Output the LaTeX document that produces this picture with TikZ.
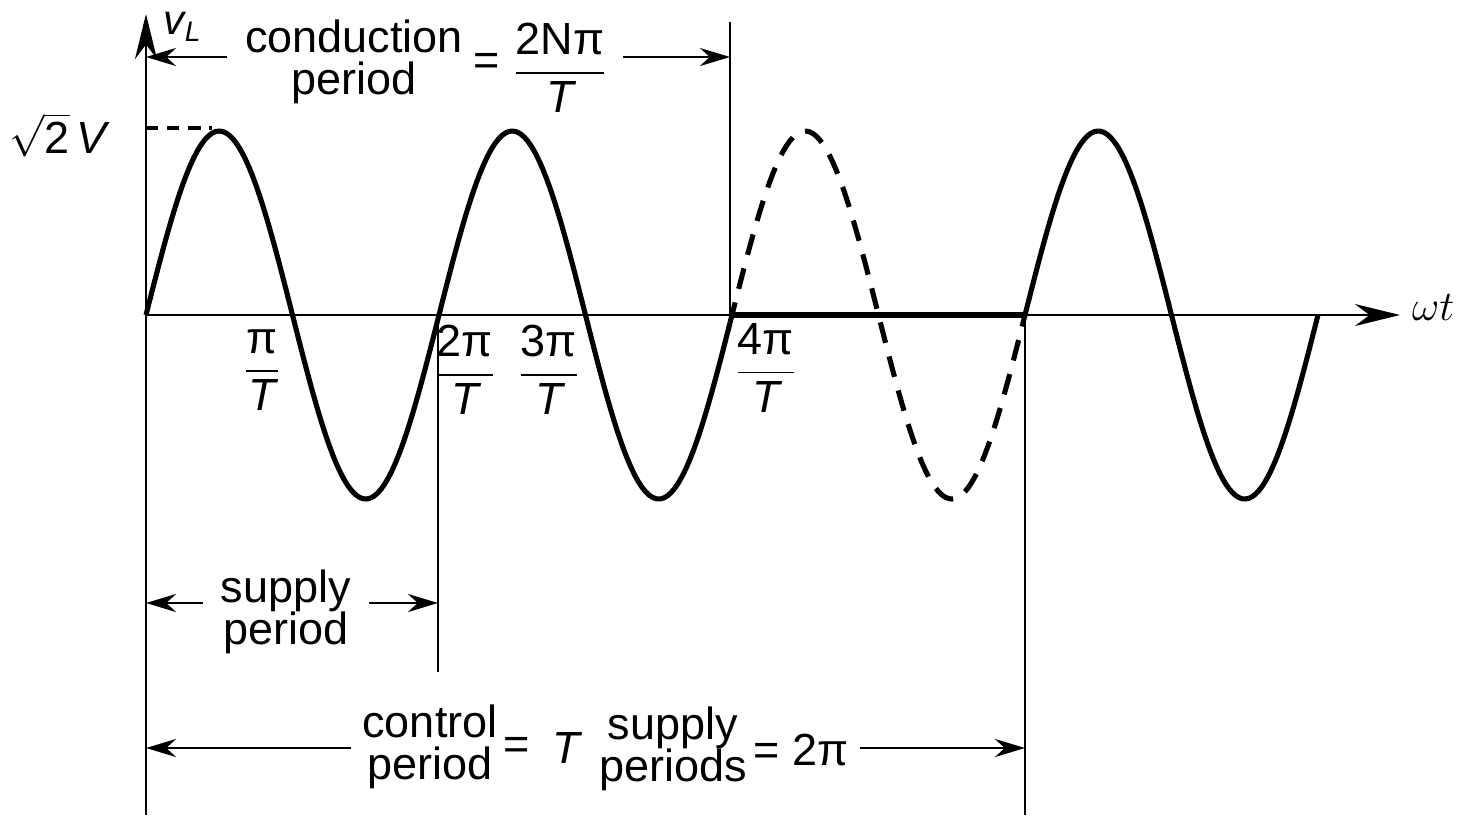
\documentclass[tikz,border=0pt]{standalone}
\usepackage{fontspec}
\setmainfont{Liberation Sans}
\usetikzlibrary{arrows.meta, positioning, calc}
\newcommand{\wfrac}[2]{$\displaystyle\frac{\mbox{#1}}{\mbox{\itshape #2}}$}

\begin{document}
\begin{tikzpicture}[
    x=0.01cm, y=-0.01cm,
    font=\fontsize{12.8}{12}\selectfont,
    axis/.style  = {line width=0.8pt, -{Stealth[length=4.5mm,width=2.2mm]}},
    guide/.style = {line width=0.75pt},
    wave/.style  = {line width=1.45pt, line join=round},
    off/.style   = {wave, dash pattern=on 6pt off 4pt},
    peak/.style  = {line width=0.9pt, dash pattern=on 3.5pt off 2.5pt},
    dim/.style   = {line width=0.7pt, -{Stealth[length=3mm,width=1.8mm]}},
    lab/.style   = {inner sep=1pt, align=center},
]
\useasboundingbox (0,0) rectangle (1465,817);

% ---- axes ----
\coordinate (O)    at (146,315);
\coordinate (ybot) at (146,815);
\coordinate (ytop) at (146,14);
\coordinate (xend) at (1400,315);
\draw[guide] (ybot) -- (O);
\draw[axis]  (O) -- (ytop);
\draw[axis]  (O) -- (xend);
\node[lab, anchor=west] (wt) at (1408,308) {$\omega t$};
\node[lab, font=\fontsize{12}{12}\selectfont] (vl) at (183,27) {\itshape v\textsubscript{L}};
\node[lab] (amp) at (58,135) {$\sqrt{\mbox{2}}\,$\itshape V};

% ---- period markers ----
\coordinate (m2) at (438,315);
\coordinate (m4) at (730,315);
\coordinate (m6) at (1025,315);
\draw[guide] (m4) -- (730,22);
\draw[guide] (m2) -- (438,672);
\draw[guide] (m6) -- (1025,815);
\draw[peak]  (146,128) -- (212,128);

% ---- load voltage ----
\draw[wave] plot[domain=146:730, samples=160]  (\x, {315-184*sin((\x-146)/146.5*180)});
\draw[off]  plot[domain=730:1025, samples=90]  (\x, {315-184*sin((\x-146)/146.5*180)});
\draw[wave] plot[domain=1025:1318, samples=90] (\x, {315-184*sin((\x-146)/146.5*180)});
\draw[wave] (m4) -- (m6);

% ---- tick labels ----
\node[lab] (t1) at (262,370) {\wfrac{π}{T}};
\node[lab] (t2) at (465,370) {\wfrac{2π}{T}};
\node[lab] (t3) at (549,370) {\wfrac{3π}{T}};
\node[lab] (t4) at (766,368) {\wfrac{4π}{T}};

% ---- conduction period ----
\coordinate (cL) at (146,57);
\coordinate (cR) at (730,57);
\node[lab] (condtxt) at (354,62) {conduction\\period};
\node[lab] (condeq)  at (487,64) {=};
\node[lab] (condfr)  at (560,68) {\wfrac{2Nπ}{T}};
\draw[dim] ([xshift=-4pt]condtxt.west |- cL) -- (cL);
\draw[dim] ([xshift=3pt]condfr.east |- cR) -- (cR);

% ---- supply period ----
\coordinate (sL) at (146,603);
\coordinate (sR) at (438,603);
\node[lab] (suptxt) at (286,612) {supply\\period};
\draw[dim] ([xshift=-4pt]suptxt.west |- sL) -- (sL);
\draw[dim] ([xshift=4pt]suptxt.east |- sR) -- (sR);

% ---- control period ----
\coordinate (kL) at (146,748);
\coordinate (kR) at (1025,748);
\node[lab] (ctrltxt) at (430,747) {control\\period};
\node[lab] (ctrleq)  at (517,748) {=};
\node[lab] (ctrlT)   at (566,748) {\itshape T};
\node[lab] (ctrlsup) at (673,749) {supply\\periods};
\node[lab] (ctrlpi)  at (801,750) {= 2π};
\draw[dim] ([xshift=-2pt]ctrltxt.west |- kL) -- (kL);
\draw[dim] ([xshift=2pt]ctrlpi.east |- kR) -- (kR);

\end{tikzpicture}
\end{document}
